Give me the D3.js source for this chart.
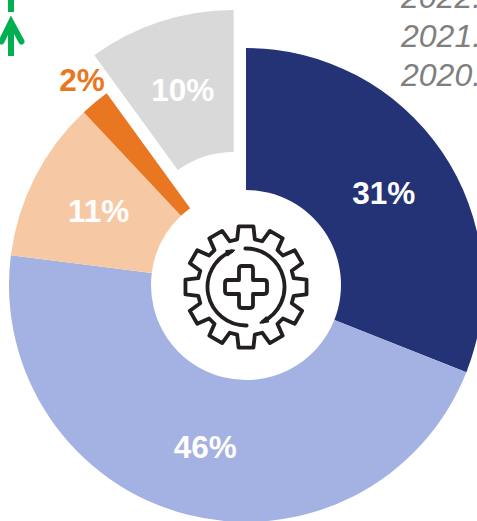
<!DOCTYPE html>
<html><head><meta charset="utf-8">
<script src="https://cdnjs.cloudflare.com/ajax/libs/d3/7.8.5/d3.min.js"></script>
<style>html,body{margin:0;padding:0;background:#fff;overflow:hidden}svg{display:block}text{font-family:"Liberation Sans",Arial,sans-serif}</style>
</head><body><svg id="c" width="477" height="521"></svg>
<script>
const labels = ["31%","46%","11%","2%","10%"];
const values = [31,46,11,2,10];
const colors = ["#233375","#a3b1e3","#f6c9a4","#e97722","#d9d9d9"];
const labelColors = ["#fff","#fff","#fff","#e97722","#fff"];
const yearLabels = ["2022.","2021.","2020."];

const svg = d3.select("#c");
const cx = 246, cy = 285, R = 237, r0 = 95, explode = 40;
const pie = d3.pie().sort(null).value(d=>d);
const arcs = pie(values);
const arc = d3.arc().innerRadius(r0).outerRadius(R);
const outerLabel = d3.arc().innerRadius(262).outerRadius(262);
const g = svg.append("g").attr("transform",`translate(${cx},${cy})`);
const offset = (d,i) => {
  if (i !== 4) return [0,0];
  const m = (d.startAngle+d.endAngle)/2;
  return [Math.sin(m)*explode, -Math.cos(m)*explode];
};
g.selectAll("path.slice").data(arcs).join("path").attr("class","slice")
  .attr("d",arc).attr("fill",(d,i)=>colors[i])
  .attr("transform",(d,i)=>`translate(${offset(d,i)})`);
g.append("circle").attr("r",94).attr("fill","#fff");
g.selectAll("text.lab").data(arcs).join("text").attr("class","lab")
  .attr("text-anchor","middle").attr("dominant-baseline","central")
  .attr("font-size",31.5).attr("font-weight",700)
  .attr("fill",(d,i)=>labelColors[i])
  .attr("transform",(d,i)=>{
    const o = offset(d,i);
    const p = i===3 ? outerLabel.centroid(d) : arc.centroid(d);
    const nudge = i===3 ? [3,-3] : [0.5,1];
    return `translate(${p[0]+o[0]+nudge[0]},${p[1]+o[1]+nudge[1]})`;
  })
  .text((d,i)=>labels[i]);

// gear icon
const icon = svg.append("g").attr("transform","translate(246,287)")
  .attr("fill","none").attr("stroke","#231f20").attr("stroke-width",3.8)
  .attr("stroke-linejoin","round").attr("stroke-linecap","round");
const teeth = d3.range(12).map(i=>i*30);
const rad = d3.scaleLinear().domain([0,180]).range([0,Math.PI]);
const gearPts = teeth.flatMap(a=>[[a-10.5,48.5],[a-7,61],[a+7,61],[a+10.5,48.5]]);
icon.append("path").attr("d",
  d3.lineRadial().angle(d=>rad(d[0])).radius(d=>d[1]).curve(d3.curveLinearClosed)(gearPts));
const ring = d3.arc().innerRadius(38.5).outerRadius(38.5);
[[-1,154],[179,338]].forEach(([a,b])=>{
  icon.append("path").attr("d",ring({startAngle:rad(a),endAngle:rad(b)}));
  const e=rad(b), x=38.5*Math.sin(e), y=-38.5*Math.cos(e);
  icon.append("path").attr("transform",`translate(${x},${y}) rotate(${b})`)
    .attr("d","M-5,-2.5L3,0L-5,2.5Z").attr("fill","#231f20").attr("stroke-width",1.5);
});
const h=21,w=7,c=3;
icon.append("path").attr("d",
 `M${-w},${-h+c}Q${-w},${-h} ${-w+c},${-h}H${w-c}Q${w},${-h} ${w},${-h+c}V${-w}` +
 `H${h-c}Q${h},${-w} ${h},${-w+c}V${w-c}Q${h},${w} ${h-c},${w}H${w}` +
 `V${h-c}Q${w},${h} ${w-c},${h}H${-w+c}Q${-w},${h} ${-w},${h-c}V${w}` +
 `H${-h+c}Q${-h},${w} ${-h},${w-c}V${-w+c}Q${-h},${-w} ${-h+c},${-w}H${-w}Z`);

// green arrow
const arrow = svg.append("g").attr("fill","none").attr("stroke","#00b050").attr("stroke-width",6);
arrow.append("line").attr("x1",11).attr("x2",11).attr("y1",-2).attr("y2",12);
arrow.append("line").attr("x1",11).attr("x2",11).attr("y1",22).attr("y2",56);
arrow.append("path").attr("d","M1.5,41.5L11,22L21.5,41.5").attr("stroke-linecap","round");

// year text, running off the right edge as in the reference
svg.selectAll("text.yr").data(yearLabels).join("text").attr("class","yr")
  .attr("x",401).attr("y",(d,i)=>8+i*39)
  .attr("font-size",32).attr("font-style","italic").attr("fill","#7f7f7f").text(d=>d);
</script></body></html>
